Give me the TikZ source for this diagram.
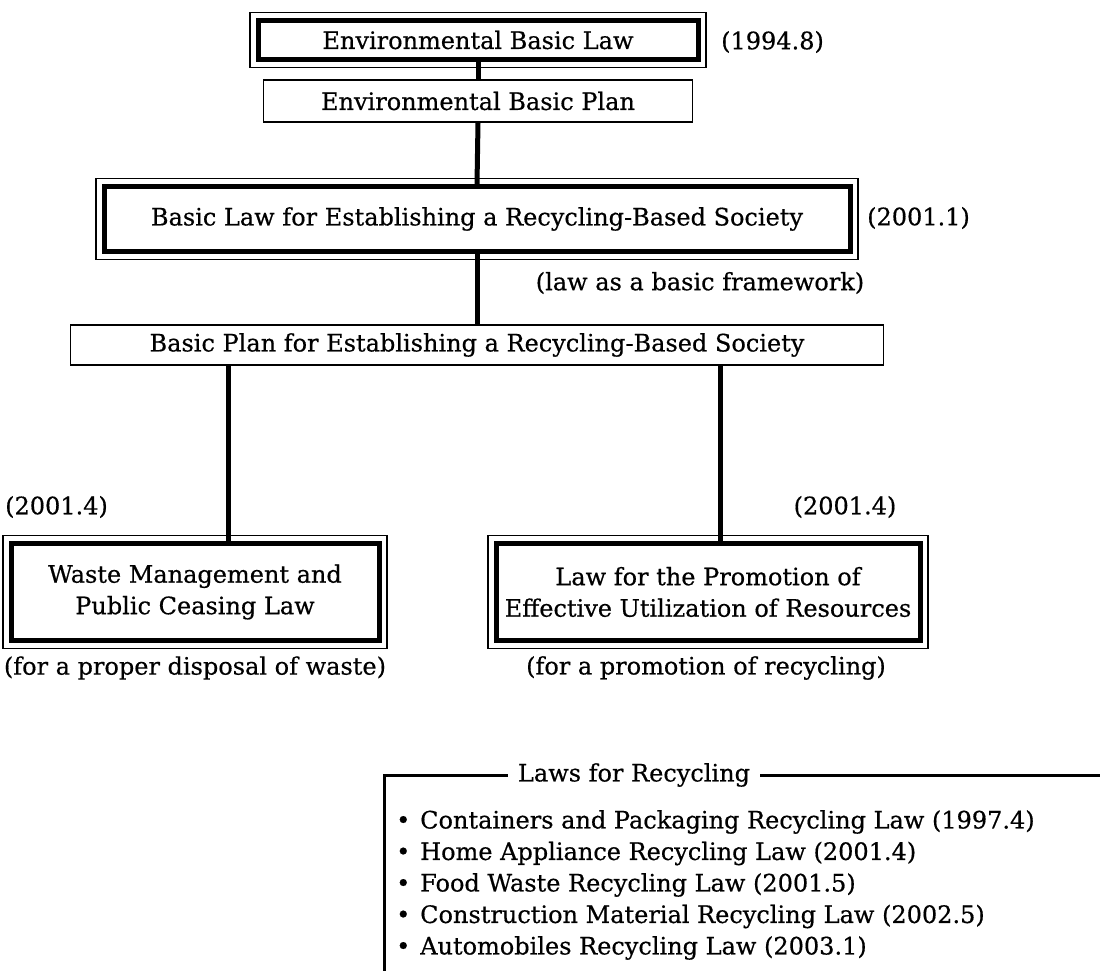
\documentclass[tikz,border=0pt]{standalone}
\usepackage{fontspec}
\setmainfont{DejaVu Serif}[FakeBold=0.5]
\usetikzlibrary{calc}
\begin{document}
\begin{tikzpicture}[x=1pt,y=-1pt,
  every node/.style={font=\fontsize{24}{31.5}\selectfont, inner sep=0pt},
  lawbox/.style={draw, line width=5pt, align=center},
  planbox/.style={draw, line width=1.5pt, align=center},
  link/.style={line width=5pt},
  frameline/.style={line width=1.2pt},
  lawsframe/.style={line width=3pt},
]
\useasboundingbox (0,0) rectangle (1100,971);
% main boxes
\node[lawbox, minimum width=440, minimum height=39] (ebl) at (478,40) {Environmental Basic Law};
\node[planbox, minimum width=429, minimum height=42] (ebp) at (478,101) {Environmental Basic Plan};
\node[lawbox, minimum width=746, minimum height=65] (blr) at (477,219) {Basic Law for Establishing a Recycling-Based Society};
\node[planbox, minimum width=813, minimum height=40] (bpr) at (477,345) {Basic Plan for Establishing a Recycling-Based Society};
\node[lawbox, minimum width=368, minimum height=97] (wml) at (195,592) {Waste Management and\\Public Ceasing Law};
\node[lawbox, minimum width=424, minimum height=97] (lpe) at (708,592) {Law for the Promotion of\\Effective Utilization of Resources};
% outer thin frames
\foreach \n in {ebl,blr,wml,lpe}{
  \draw[frameline] ($(\n.north west)+(-5.5,-5.5)$) rectangle ($(\n.south east)+(5.5,5.5)$);
}
% labels
\node[anchor=west] (d1) at (721,42) {(1994.8)};
\node[anchor=west] (d2) at (867,218) {(2001.1)};
\node (fw) at (700,283) {(law as a basic framework)};
\node[anchor=west] (d3) at (5,507) {(2001.4)};
\node (d4) at (845,507) {(2001.4)};
\node (c1) at (195,668) {(for a proper disposal of waste)};
\node (c2) at (706,668) {(for a promotion of recycling)};
% connectors
\coordinate (wl) at (228,450);
\coordinate (rl) at (720,450);
\draw[link] (ebl.south) -- (ebp.north);
\draw[link] (ebp.south) -- (blr.north);
\draw[link] (blr.south) -- (bpr.north);
\draw[link] (bpr.south -| wl) -- (wml.north -| wl);
\draw[link] (bpr.south -| rl) -- (lpe.north -| rl);
% laws for recycling
\node[inner xsep=10pt] (lfr) at (634,775) {Laws for Recycling};
\coordinate (lc) at (384,775);
\coordinate (lb) at (384,971);
\coordinate (rc) at (1100,775);
\draw[lawsframe] (lfr.west) -- (lc) -- (lb);
\draw[lawsframe] (lfr.east) -- (rc);
\node[anchor=west, align=left] (items) at (396,885) {%
\makebox[24pt][l]{•}Containers and Packaging Recycling Law (1997.4)\\
\makebox[24pt][l]{•}Home Appliance Recycling Law (2001.4)\\
\makebox[24pt][l]{•}Food Waste Recycling Law (2001.5)\\
\makebox[24pt][l]{•}Construction Material Recycling Law (2002.5)\\
\makebox[24pt][l]{•}Automobiles Recycling Law (2003.1)};
\end{tikzpicture}
\end{document}
